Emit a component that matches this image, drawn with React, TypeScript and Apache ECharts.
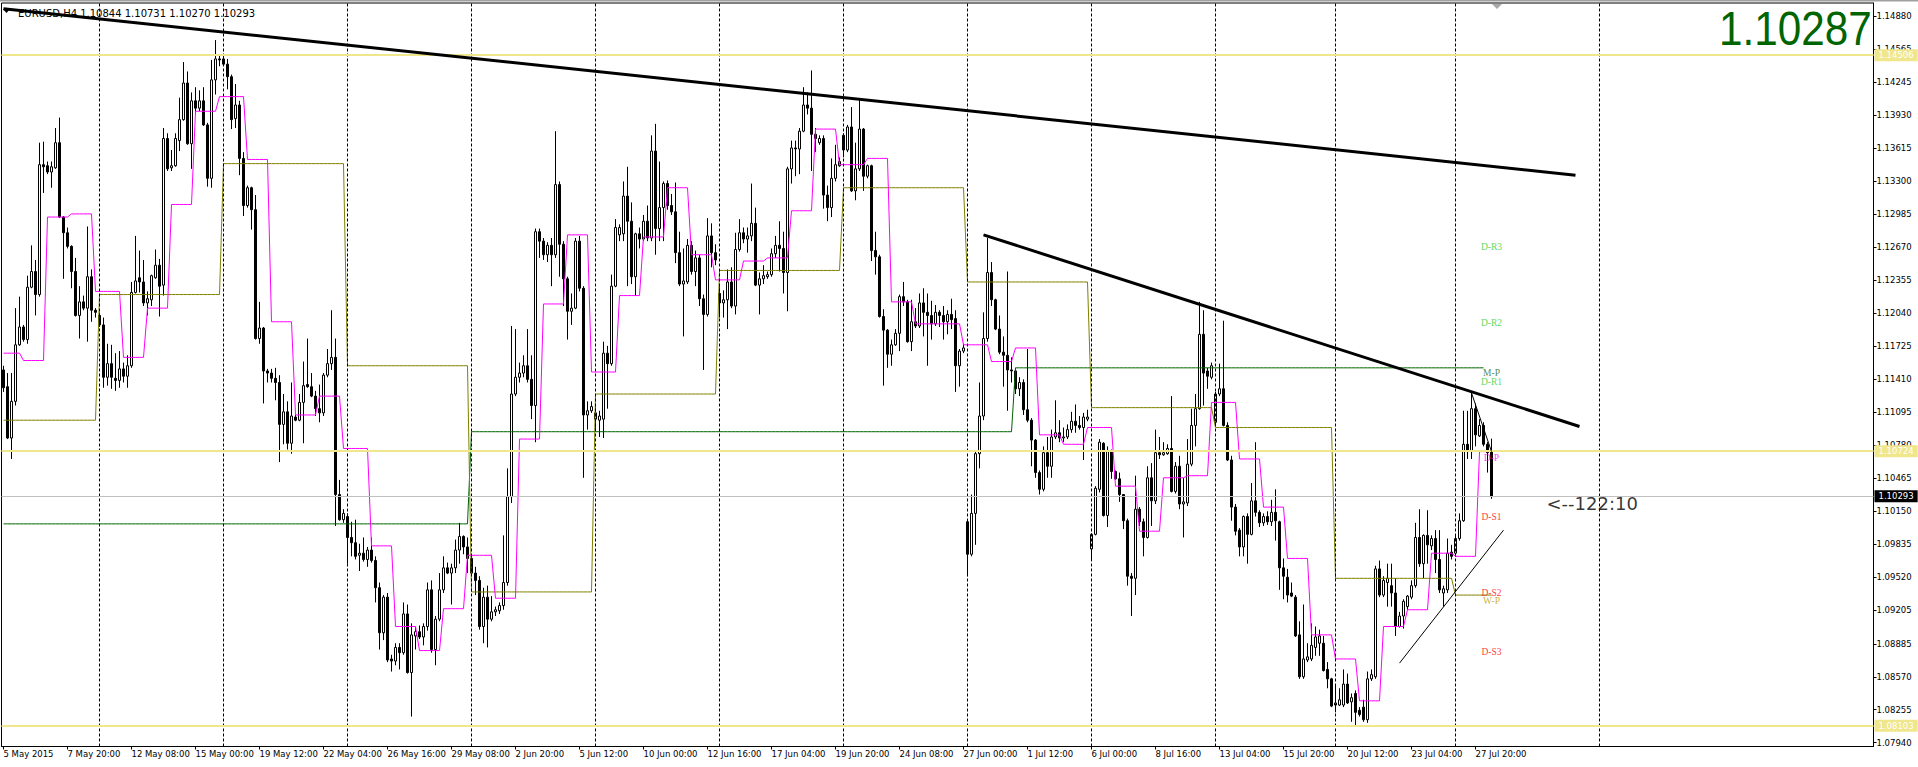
import React, { useEffect, useRef } from 'react';
import * as echarts from 'echarts';

const SLOT_COUNT = 468;
const xTickLabels = ['5 May 2015', '7 May 20:00', '12 May 08:00', '15 May 00:00', '19 May 12:00', '22 May 04:00', '26 May 16:00', '29 May 08:00', '2 Jun 20:00', '5 Jun 12:00', '10 Jun 00:00', '12 Jun 16:00', '17 Jun 04:00', '19 Jun 20:00', '24 Jun 08:00', '27 Jun 00:00', '1 Jul 12:00', '6 Jul 00:00', '8 Jul 16:00', '13 Jul 04:00', '15 Jul 20:00', '20 Jul 12:00', '23 Jul 04:00', '27 Jul 20:00'];
const xTickStep = 16;
const yTickLabels = ['1.14880', '1.14565', '1.14245', '1.13930', '1.13615', '1.13300', '1.12985', '1.12670', '1.12355', '1.12040', '1.11725', '1.11410', '1.11095', '1.10780', '1.10465', '1.10150', '1.09835', '1.09520', '1.09205', '1.08885', '1.08570', '1.08255', '1.07940'];

const openP = [
  1.1150,1.1134,1.1085,1.1120,1.1174,1.1191,1.1179,1.1229,1.1244,1.1222,
  1.1346,1.1345,1.1339,1.1343,1.1367,1.1296,1.1281,1.1268,1.1244,1.1202,
  1.1215,1.1209,1.1239,1.1207,1.1202,1.1193,1.1143,1.1156,1.1142,1.1140,
  1.1151,1.1144,1.1154,1.1224,1.1238,1.1234,1.1214,1.1217,1.1238,1.1250,
  1.1231,1.1371,1.1343,1.1345,1.1369,1.1389,1.1424,1.1366,1.1407,1.1400,
  1.1407,1.1384,1.1333,1.1427,1.1447,1.1447,1.1442,1.1430,1.1390,1.1403,
  1.1352,1.1307,1.1324,1.1303,1.1180,1.1190,1.1149,1.1147,1.1142,1.1138,
  1.1098,1.1110,1.1080,1.1105,1.1102,1.1119,1.1136,1.1134,1.1125,1.1113,
  1.1109,1.1145,1.1156,1.1162,1.1031,1.1007,1.1010,1.0990,1.0985,1.0973,
  1.0975,1.0969,1.0978,1.0968,1.0942,1.0899,1.0933,1.0874,1.0872,1.0885,
  1.0880,1.0917,1.0861,1.0896,1.0900,1.0895,1.0905,1.0940,1.0883,1.0912,
  1.0940,1.0961,1.0956,1.0961,1.0978,1.0991,1.0981,1.0970,1.0956,1.0949,
  1.0905,1.0933,1.0912,1.0919,1.0920,1.0925,1.0947,1.1029,1.1127,1.1143,
  1.1147,1.1154,1.1141,1.1116,1.1282,1.1273,1.1260,1.1269,1.1260,1.1327,
  1.1270,1.1237,1.1206,1.1209,1.1273,1.1228,1.1107,1.1111,1.1103,1.1102,
  1.1103,1.1166,1.1156,1.1230,1.1279,1.1280,1.1316,1.1292,1.1239,1.1280,
  1.1275,1.1292,1.1276,1.1359,1.1285,1.1305,1.1328,1.1307,1.1301,1.1262,
  1.1232,1.1234,1.1269,1.1244,1.1257,1.1218,1.1203,1.1278,1.1262,1.1223,
  1.1214,1.1217,1.1234,1.1211,1.1265,1.1281,1.1275,1.1278,1.1290,1.1231,
  1.1237,1.1239,1.1241,1.1261,1.1269,1.1266,1.1243,1.1342,1.1362,1.1361,
  1.1378,1.1403,1.1400,1.1375,1.1367,1.1371,1.1317,1.1305,1.1333,1.1345,
  1.1374,1.1360,1.1382,1.1321,1.1342,1.1380,1.1335,1.1345,1.1264,1.1258,
  1.1201,1.1188,1.1165,1.1174,1.1185,1.1220,1.1215,1.1177,1.1196,1.1192,
  1.1214,1.1205,1.1202,1.1194,1.1205,1.1202,1.1196,1.1203,1.1199,1.1154,
  1.1168,1.1005,1.0974,1.1013,1.1070,1.1106,1.1180,1.1243,1.1217,1.1189,
  1.1167,1.1164,1.1150,1.1149,1.1132,1.1138,1.1112,1.1102,1.1083,1.1052,
  1.1036,1.1071,1.1058,1.1086,1.1090,1.1085,1.1086,1.1093,1.1101,1.1097,
  1.1095,1.1103,1.0979,1.0993,1.1036,1.1080,1.1011,1.1072,1.1053,1.1046,
  1.1031,1.1006,1.0953,1.0951,1.1017,1.1005,1.0990,1.1047,1.1025,1.1071,
  1.1069,1.1070,1.1075,1.1034,1.1058,1.1022,1.1023,1.1060,1.1097,1.1113,
  1.1184,1.1149,1.1143,1.1100,1.1127,1.1132,1.1097,1.1064,1.1019,1.0997,
  1.0981,1.1010,1.0993,1.1025,1.1014,1.1004,1.1010,1.1005,1.1014,1.1005,
  1.0961,1.0952,1.0937,1.0933,1.0897,1.0857,1.0873,1.0874,1.0885,1.0889,
  1.0889,1.0864,1.0855,1.0830,1.0830,1.0830,1.0850,1.0833,1.0841,1.0825,
  1.0828,1.0816,1.0855,1.0857,1.0960,1.0935,1.0947,1.0944,1.0937,1.0905,
  1.0915,1.0924,1.0933,1.0944,1.0990,1.0965,1.0992,1.0982,1.0989,1.0969,
  1.0937,1.0940,1.0976,1.0975,1.0989,1.1006,1.1079,1.1072,1.1113,1.1087,
  1.1097,1.1079,1.10731
];
const highP = [
  1.1154,1.1147,1.1147,1.1209,1.1220,1.1193,1.1240,1.1269,1.1255,1.1367,
  1.1368,1.1349,1.1349,1.1381,1.1391,1.1297,1.1286,1.1269,1.1257,1.1230,
  1.1221,1.1287,1.1246,1.1209,1.1205,1.1200,1.1175,1.1174,1.1166,1.1168,
  1.1157,1.1164,1.1234,1.1278,1.1264,1.1255,1.1225,1.1241,1.1265,1.1256,
  1.1381,1.1376,1.1360,1.1376,1.1410,1.1444,1.1435,1.1415,1.1420,1.1417,
  1.1420,1.1386,1.1446,1.1465,1.1450,1.1450,1.1447,1.1432,1.1423,1.1407,
  1.1358,1.1326,1.1325,1.1317,1.1215,1.1191,1.1151,1.1151,1.1152,1.1145,
  1.1127,1.1120,1.1138,1.1107,1.1127,1.1158,1.1180,1.1147,1.1130,1.1136,
  1.1147,1.1170,1.1207,1.1180,1.1045,1.1017,1.1013,1.1005,1.1007,1.0984,
  1.0990,1.0981,1.0990,1.0972,1.0947,1.0935,1.0937,1.0878,1.0889,1.0889,
  1.0928,1.0926,1.0908,1.0905,1.0906,1.0908,1.0947,1.0949,1.0915,1.0956,
  1.0972,1.0966,1.0965,1.0988,1.1004,1.0992,1.0990,1.0974,1.0962,1.0953,
  1.0942,1.0944,1.0934,1.0924,1.0928,1.0992,1.1056,1.1192,1.1189,1.1157,
  1.1164,1.1189,1.1164,1.1285,1.1285,1.1276,1.1272,1.1276,1.1378,1.1330,
  1.1273,1.1239,1.1223,1.1276,1.1278,1.1230,1.1120,1.1120,1.1116,1.1111,
  1.1177,1.1173,1.1241,1.1294,1.1289,1.1330,1.1344,1.1310,1.1281,1.1286,
  1.1298,1.1307,1.1374,1.1385,1.1349,1.1330,1.1331,1.1318,1.1329,1.1282,
  1.1266,1.1275,1.1273,1.1264,1.1260,1.1222,1.1295,1.1290,1.1270,1.1232,
  1.1226,1.1246,1.1248,1.1281,1.1294,1.1286,1.1286,1.1328,1.1305,1.1243,
  1.1250,1.1244,1.1266,1.1278,1.1292,1.1282,1.1344,1.1369,1.1369,1.1381,
  1.1420,1.1415,1.1436,1.1381,1.1374,1.1374,1.1326,1.1352,1.1365,1.1353,
  1.1376,1.1384,1.1401,1.1367,1.1408,1.1381,1.1346,1.1346,1.1282,1.1260,
  1.1208,1.1189,1.1179,1.1189,1.1222,1.1234,1.1217,1.1217,1.1209,1.1223,
  1.1228,1.1223,1.1216,1.1212,1.1207,1.1211,1.1207,1.1218,1.1207,1.1170,
  1.1175,1.1006,1.1031,1.1072,1.1138,1.1205,1.1276,1.1253,1.1218,1.1202,
  1.1182,1.1244,1.1162,1.1152,1.1143,1.1141,1.1170,1.1104,1.1084,1.1054,
  1.1077,1.1086,1.1093,1.1121,1.1102,1.1095,1.1098,1.1110,1.1117,1.1106,
  1.1109,1.1112,1.0994,1.1039,1.1084,1.1081,1.1077,1.1074,1.1054,1.1052,
  1.1031,1.1008,1.0956,1.1049,1.1019,1.1008,1.1058,1.1061,1.1093,1.1086,
  1.1081,1.1079,1.1125,1.1062,1.1068,1.1047,1.1084,1.1113,1.1127,1.1215,
  1.1207,1.1152,1.1157,1.1129,1.1156,1.1197,1.1100,1.1068,1.1022,1.0999,
  1.1011,1.1013,1.1042,1.1081,1.1016,1.1013,1.1015,1.1026,1.1036,1.1006,
  1.0970,1.0960,1.0947,1.0935,1.0910,1.0926,1.0889,1.0908,1.0905,1.0902,
  1.0896,1.0871,1.0856,1.0850,1.0846,1.0864,1.0860,1.0841,1.0844,1.0828,
  1.0835,1.0862,1.0864,1.0963,1.0968,1.0953,1.0965,1.0965,1.0951,1.0919,
  1.0931,1.0935,1.0949,1.1004,1.1017,1.0993,1.1016,1.0992,1.0997,1.0997,
  1.0944,1.0989,1.0983,1.0992,1.1013,1.1111,1.1111,1.1128,1.1118,1.1103,
  1.1100,1.1081,1.10844
];
const lowP = [
  1.1129,1.1084,1.1065,1.1116,1.1173,1.1177,1.1175,1.1228,1.1202,1.1220,
  1.1319,1.1337,1.1324,1.1342,1.1295,1.1237,1.1266,1.1228,1.1201,1.1180,
  1.1207,1.1177,1.1196,1.1200,1.1191,1.1133,1.1135,1.1132,1.1130,1.1133,
  1.1138,1.1133,1.1152,1.1223,1.1224,1.1211,1.1202,1.1211,1.1237,1.1201,
  1.1221,1.1340,1.1340,1.1344,1.1359,1.1388,1.1365,1.1342,1.1394,1.1397,
  1.1383,1.1325,1.1324,1.1413,1.1440,1.1441,1.1418,1.1380,1.1381,1.1336,
  1.1297,1.1305,1.1284,1.1179,1.1175,1.1118,1.1138,1.1138,1.1121,1.1062,
  1.1079,1.1074,1.1070,1.1101,1.1101,1.1080,1.1133,1.1124,1.1106,1.1100,
  1.1106,1.1143,1.1150,1.1001,1.1006,1.1004,1.0965,1.0972,1.0969,1.0958,
  1.0967,1.0962,1.0966,1.0928,1.0883,1.0892,1.0871,1.0862,1.0868,1.0864,
  1.0878,1.0860,1.0819,1.0883,1.0893,1.0887,1.0901,1.0880,1.0868,1.0910,
  1.0937,1.0955,1.0926,1.0956,1.0965,1.0974,1.0956,1.0953,1.0935,1.0902,
  1.0889,1.0885,1.0910,1.0915,1.0917,1.0921,1.0944,1.1023,1.1125,1.1138,
  1.1143,1.1138,1.1103,1.1081,1.1257,1.1255,1.1253,1.1230,1.1257,1.1239,
  1.1211,1.1179,1.1193,1.1208,1.1225,1.1047,1.1093,1.1109,1.1093,1.1086,
  1.1085,1.1113,1.1154,1.1229,1.1273,1.1273,1.1230,1.1232,1.1221,1.1266,
  1.1273,1.1273,1.1273,1.1260,1.1273,1.1273,1.1303,1.1298,1.1252,1.1230,
  1.1182,1.1232,1.1241,1.1230,1.1211,1.1150,1.1201,1.1248,1.1250,1.1200,
  1.1200,1.1189,1.1209,1.1203,1.1263,1.1271,1.1262,1.1273,1.1230,1.1203,
  1.1232,1.1237,1.1239,1.1257,1.1244,1.1223,1.1206,1.1328,1.1335,1.1337,
  1.1377,1.1394,1.1340,1.1358,1.1365,1.1304,1.1292,1.1296,1.1330,1.1344,
  1.1353,1.1358,1.1320,1.1312,1.1340,1.1321,1.1333,1.1254,1.1241,1.1200,
  1.1135,1.1152,1.1154,1.1173,1.1168,1.1211,1.1176,1.1168,1.1190,1.1190,
  1.1182,1.1154,1.1179,1.1192,1.1191,1.1179,1.1184,1.1189,1.1129,1.1134,
  1.1166,1.0953,1.0972,1.0983,1.1056,1.1102,1.1177,1.1211,1.1188,1.1165,
  1.1134,1.1111,1.1138,1.1127,1.1125,1.1107,1.1100,1.1058,1.1047,1.1031,
  1.1034,1.1047,1.1047,1.1084,1.1081,1.1081,1.1084,1.1090,1.1090,1.1093,
  1.1064,1.1101,1.0968,1.0992,1.1033,1.1010,1.1000,1.1046,1.1045,1.1024,
  1.0998,1.0944,1.0915,1.0935,1.1001,1.0972,1.0989,1.1001,1.1022,1.1065,
  1.1068,1.1069,1.1033,1.1032,1.1017,1.0990,1.1020,1.1058,1.1077,1.1112,
  1.1116,1.1132,1.1141,1.1097,1.1125,1.1096,1.1063,1.1006,1.0992,1.0972,
  1.0972,1.0965,1.0992,1.1010,1.1000,1.1001,1.1002,1.1001,1.0987,1.0940,
  1.0931,1.0928,1.0933,1.0895,1.0855,1.0855,1.0871,1.0872,1.0877,1.0877,
  1.0862,1.0846,1.0828,1.0823,1.0829,1.0828,1.0831,1.0814,1.0809,1.0819,
  1.0814,1.0813,1.0853,1.0855,1.0933,1.0933,1.0924,1.0924,1.0896,1.0904,
  1.0903,1.0921,1.0931,1.0942,1.0962,1.0951,1.0965,1.0978,1.0956,1.0937,
  1.0924,1.0937,1.0969,1.0972,1.0987,1.1005,1.1065,1.1065,1.1077,1.1086,
  1.1077,1.1052,1.10270
];
const closeP = [
  1.1133,1.1085,1.1120,1.1174,1.1191,1.1179,1.1229,1.1244,1.1222,1.1346,
  1.1344,1.1339,1.1344,1.1367,1.1296,1.1281,1.1268,1.1244,1.1202,1.1215,
  1.1209,1.1239,1.1207,1.1205,1.1193,1.1143,1.1156,1.1143,1.1140,1.1151,
  1.1144,1.1154,1.1224,1.1235,1.1234,1.1214,1.1218,1.1240,1.1250,1.1230,
  1.1371,1.1342,1.1345,1.1371,1.1389,1.1424,1.1366,1.1407,1.1400,1.1407,
  1.1384,1.1333,1.1427,1.1447,1.1446,1.1442,1.1430,1.1389,1.1403,1.1352,
  1.1307,1.1324,1.1303,1.1180,1.1190,1.1149,1.1147,1.1142,1.1138,1.1098,
  1.1110,1.1080,1.1106,1.1102,1.1119,1.1135,1.1134,1.1125,1.1113,1.1109,
  1.1145,1.1156,1.1162,1.1031,1.1007,1.1013,1.0990,1.0985,1.0972,1.0975,
  1.0969,1.0978,1.0968,1.0942,1.0899,1.0933,1.0873,1.0872,1.0885,1.0880,
  1.0917,1.0861,1.0897,1.0900,1.0895,1.0905,1.0940,1.0883,1.0912,1.0940,
  1.0961,1.0956,1.0961,1.0978,1.0991,1.0981,1.0970,1.0956,1.0949,1.0905,
  1.0933,1.0912,1.0919,1.0921,1.0925,1.0947,1.1029,1.1127,1.1143,1.1147,
  1.1154,1.1141,1.1116,1.1282,1.1273,1.1260,1.1269,1.1260,1.1327,1.1270,
  1.1237,1.1206,1.1209,1.1273,1.1228,1.1107,1.1111,1.1115,1.1109,1.1106,
  1.1166,1.1156,1.1230,1.1286,1.1286,1.1316,1.1292,1.1239,1.1280,1.1275,
  1.1292,1.1276,1.1359,1.1285,1.1305,1.1328,1.1307,1.1301,1.1262,1.1232,
  1.1235,1.1269,1.1244,1.1257,1.1218,1.1203,1.1278,1.1262,1.1255,1.1214,
  1.1217,1.1234,1.1211,1.1265,1.1281,1.1275,1.1278,1.1290,1.1231,1.1237,
  1.1240,1.1241,1.1261,1.1269,1.1266,1.1243,1.1342,1.1362,1.1361,1.1378,
  1.1403,1.1400,1.1375,1.1371,1.1371,1.1317,1.1305,1.1333,1.1346,1.1349,
  1.1360,1.1382,1.1321,1.1342,1.1380,1.1335,1.1345,1.1264,1.1258,1.1201,
  1.1188,1.1165,1.1174,1.1185,1.1220,1.1215,1.1177,1.1196,1.1192,1.1214,
  1.1205,1.1202,1.1194,1.1205,1.1202,1.1196,1.1203,1.1198,1.1154,1.1168,
  1.1171,1.0974,1.1013,1.1070,1.1106,1.1180,1.1243,1.1217,1.1189,1.1167,
  1.1164,1.1150,1.1149,1.1132,1.1138,1.1112,1.1102,1.1083,1.1052,1.1036,
  1.1071,1.1058,1.1086,1.1090,1.1085,1.1086,1.1093,1.1101,1.1097,1.1095,
  1.1105,1.1105,1.0993,1.1037,1.1081,1.1011,1.1072,1.1053,1.1046,1.1031,
  1.1006,1.0953,1.0951,1.1017,1.1005,1.0990,1.1047,1.1025,1.1071,1.1069,
  1.1071,1.1075,1.1034,1.1058,1.1022,1.1024,1.1060,1.1097,1.1113,1.1184,
  1.1147,1.1144,1.1154,1.1127,1.1132,1.1097,1.1064,1.1019,1.0996,1.0981,
  1.1010,1.0993,1.1025,1.1014,1.1004,1.1010,1.1005,1.1014,1.1006,1.0961,
  1.0953,1.0935,1.0934,1.0896,1.0857,1.0874,1.0876,1.0887,1.0895,1.0896,
  1.0863,1.0855,1.0829,1.0832,1.0835,1.0850,1.0832,1.0837,1.0823,1.0821,
  1.0816,1.0855,1.0859,1.0960,1.0935,1.0949,1.0951,1.0937,1.0905,1.0915,
  1.0929,1.0934,1.0944,1.0990,1.0965,1.0992,1.0983,1.0989,1.0969,1.0940,
  1.0941,1.0975,1.0972,1.0989,1.1006,1.1079,1.1072,1.1113,1.1088,1.1097,
  1.1079,1.1071,1.10293
];

// [firstBar, lastBar, level]
const dailyPivot = [
  [0,4,1.1166],[5,10,1.1159],[11,16,1.1296],[17,22,1.1299],[23,29,1.1225],[30,35,1.1162],[36,41,1.1209],
  [42,47,1.1308],[48,53,1.1397],[54,60,1.1411],[61,66,1.1351],[67,72,1.1196],[73,78,1.1107],[79,84,1.1125],
  [85,91,1.1075],[92,97,1.0982],[98,103,1.0905],[104,109,1.0882],[110,115,1.0922],[116,122,1.0973],
  [123,128,1.0932],[129,134,1.1084],[135,140,1.1213],[141,146,1.1279],[147,153,1.1148],[154,159,1.1221],
  [160,165,1.1277],[166,171,1.1324],[172,177,1.1260],[178,184,1.1236],[185,190,1.1254],[191,196,1.1257],
  [197,202,1.1302],[203,208,1.1380],[209,215,1.1346],[216,221,1.1352],[222,227,1.1215],[228,239,1.1194],
  [240,246,1.1174],[247,252,1.1158],[253,258,1.1171],[259,264,1.1088],[265,270,1.1079],[271,277,1.1095],
  [278,283,1.1039],[284,289,1.0996],[290,295,1.1047],[296,301,1.1049],[302,308,1.1119],[309,314,1.1065],
  [315,320,1.1019],[321,326,1.0970],[327,332,1.0897],[333,338,1.0874],[339,344,1.0834],[345,350,1.0905],
  [351,356,1.0921],[357,362,1.0975],[363,368,1.0972],[369,372,1.1072]
];
const weeklyPivot = [
  [0,23,1.1102],[24,54,1.1222],[55,85,1.1347],[86,116,1.1154],[117,147,1.0938],[148,178,1.1127],
  [179,209,1.1245],[210,240,1.1324],[241,271,1.1234],[272,302,1.1114],[303,332,1.1095],[333,362,1.0951],[363,372,1.0935]
];
const monthlyPivot = [[0,116,1.1003],[117,252,1.1091],[253,370,1.1152]];

const levelLines = [1.14506, 1.10724, 1.08103];
const currentPrice = 1.10293;
const separatorBars = [24, 55, 86, 117, 148, 179, 210, 241, 272, 303, 333, 363, 399];
const trendLines = [
  { from: [0, 1.1495], to: [393, 1.1336], width: 3 },
  { from: [245, 1.1279], to: [394, 1.1096], width: 3 },
  { from: [349, 1.0870], to: [375, 1.0997], width: 1 },
  { from: [367, 1.1128], to: [372, 1.1072], width: 1 }
];
const pivotLabelBar = 372;
const pivotLabels = [
  { text: 'D-R3', level: 1.1267, color: '#32CD32' },
  { text: 'D-R2', level: 1.1195, color: '#32CD32' },
  { text: 'M-P', level: 1.1147, color: '#1E6B1E' },
  { text: 'D-R1', level: 1.1138, color: '#32CD32' },
  { text: 'D-P', level: 1.1066, color: '#FF00FF' },
  { text: 'D-S1', level: 1.1010, color: '#FF0000' },
  { text: 'D-S2', level: 1.0937, color: '#FF0000' },
  { text: 'W-P', level: 1.0929, color: '#B8A000' },
  { text: 'D-S3', level: 1.0881, color: '#FF0000' }
];
const timerText = '<--122:10';
const timerBar = 386;
const headerText = 'EURUSD,H4 1.10844 1.10731 1.10270 1.10293';
const bigPriceText = '1.10287';

const Y_MIN = 1.07904;
const Y_MAX = 1.15004;

function stepData(segs: number[][], n: number) {
  const arr: (number | null)[] = new Array(n).fill(null);
  for (const [s, e, v] of segs) for (let i = s; i <= e; i++) arr[i] = v;
  return arr;
}

export default function App() {
  const ref = useRef<HTMLDivElement>(null);
  useEffect(() => {
    document.body.style.margin = '0';
    if (!ref.current) return;
    const chart = echarts.init(ref.current, null, { renderer: 'svg' });
    const n = Math.min(openP.length, highP.length, lowP.length, closeP.length);
    const categories = Array.from({ length: SLOT_COUNT }, (_, i) => String(i));
    const candles = [];
    for (let i = 0; i < n; i++) candles.push([openP[i], closeP[i], lowP[i], highP[i]]);
    const showTick = (i: number) => i % xTickStep === 0 && i / xTickStep < xTickLabels.length;
    const font = 'DejaVu Sans';

    const option: any = {
      animation: false,
      backgroundColor: '#ffffff',
      textStyle: { fontFamily: font },
      grid: { left: 1.5, right: 44.5, top: 3, bottom: 20.5, show: true, borderColor: '#000', borderWidth: 1, backgroundColor: '#fff' },
      xAxis: {
        type: 'category',
        data: categories,
        boundaryGap: true,
        axisLine: { show: true, lineStyle: { color: '#000', width: 1 } },
        axisTick: { show: true, alignWithLabel: true, interval: (i: number) => showTick(i), length: 3, lineStyle: { color: '#000' } },
        axisLabel: {
          show: true,
          interval: (i: number) => showTick(i),
          formatter: (_v: string, i: number) => xTickLabels[i / xTickStep] || '',
          align: 'left',
          margin: 3,
          fontSize: 8.5,
          fontFamily: font,
          color: '#000'
        },
        splitLine: { show: false }
      },
      yAxis: {
        type: 'value',
        position: 'right',
        min: Y_MIN,
        max: Y_MAX,
        scale: true,
        axisLine: { show: true, lineStyle: { color: '#000', width: 1 } },
        axisTick: { show: true, length: 3, customValues: yTickLabels.map(Number), lineStyle: { color: '#000' } },
        axisLabel: {
          show: true,
          customValues: yTickLabels.map(Number),
          formatter: (v: number) => v.toFixed(5),
          fontSize: 8.5,
          fontFamily: font,
          color: '#000',
          margin: 3
        },
        splitLine: { show: false }
      },
      series: [
        {
          type: 'line', data: [], z: 1, silent: true,
          markLine: {
            silent: true, symbol: ['none', 'none'], animation: false,
            label: { show: false },
            lineStyle: { color: '#000', width: 1, type: [3, 2] },
            data: separatorBars.map(b => ({ xAxis: String(b) }))
          }
        },
        {
          type: 'line', data: [], z: 2, silent: true,
          markLine: {
            silent: true, symbol: ['none', 'none'], animation: false, precision: 5,
            data: [
              ...levelLines.map(v => ({
                yAxis: v,
                lineStyle: { color: '#F0E68C', width: 2, type: 'solid' },
                label: { show: true, position: 'end', distance: 1, formatter: () => v.toFixed(5), color: '#fff', backgroundColor: '#F0E68C', padding: [2, 4, 1, 4], fontSize: 8.5, fontFamily: font }
              })),
              {
                yAxis: currentPrice,
                lineStyle: { color: '#C0C0C0', width: 1, type: 'solid' },
                label: { show: true, position: 'end', distance: 1, formatter: () => currentPrice.toFixed(5), color: '#fff', backgroundColor: '#000', padding: [2, 4, 1, 4], fontSize: 8.5, fontFamily: font }
              }
            ]
          }
        },
        {
          type: 'candlestick',
          data: candles,
          z: 3,
          silent: true,
          barWidth: 3,
          itemStyle: { color: '#ffffff', color0: '#000000', borderColor: '#000000', borderColor0: '#000000', borderWidth: 1 }
        },
        {
          type: 'line', data: stepData(monthlyPivot, n), z: 4, silent: true, symbol: 'none', showSymbol: false,
          lineStyle: { color: '#006400', width: 1 }
        },
        {
          type: 'line', data: stepData(weeklyPivot, n), z: 4, silent: true, symbol: 'none', showSymbol: false,
          lineStyle: { color: '#808000', width: 1 }
        },
        {
          type: 'line', data: stepData(dailyPivot, n), z: 4, silent: true, symbol: 'none', showSymbol: false,
          lineStyle: { color: '#FF00FF', width: 1 }
        },
        ...trendLines.map(t => ({
          type: 'line', data: [t.from, t.to], z: 5, silent: true, symbol: 'none', showSymbol: false,
          lineStyle: { color: '#000', width: t.width }
        })),
        {
          type: 'scatter', z: 6, silent: true, symbolSize: 1, itemStyle: { color: 'transparent' },
          label: { show: true, position: 'inside', formatter: '{b}', fontFamily: 'Liberation Serif', fontSize: 9.5 },
          data: pivotLabels.map(p => ({ name: p.text, value: [pivotLabelBar, p.level], label: { color: p.color } }))
        },
        {
          type: 'scatter', z: 6, silent: true, symbolSize: 1, itemStyle: { color: 'transparent' },
          label: { show: true, position: 'inside', align: 'left', verticalAlign: 'middle', offset: [-1, 7], formatter: '{b}', fontFamily: font, fontSize: 18, color: '#000' },
          data: [{ name: timerText, value: [timerBar, currentPrice] }]
        }
      ],
      graphic: [
        { type: 'rect', shape: { x: 0, y: 0, width: 1918, height: 1.5 }, style: { fill: '#A0A0A0' }, silent: true },
        { type: 'polygon', shape: { points: [[3, 9], [10, 9], [6.5, 13]] }, style: { fill: '#000' }, silent: true },
        { type: 'polygon', shape: { points: [[1492, 4], [1502, 4], [1497, 9]] }, style: { fill: '#A8A8A8' }, silent: true },
        { type: 'text', x: 18, y: 8, style: { text: headerText, font: '10px "DejaVu Sans"', fill: '#000' }, silent: true },
        {
          type: 'text', x: 1719, y: 29, scaleX: 0.88, originX: 0,
          style: { text: bigPriceText, font: '48px "Liberation Sans"', fill: '#006400', align: 'left', textAlign: 'left', verticalAlign: 'middle', textVerticalAlign: 'middle' },
          silent: true
        }
      ]
    };
    chart.setOption(option);
    return () => chart.dispose();
  }, []);
  return <div ref={ref} style={{ width: 1918, height: 767 }} />;
}
